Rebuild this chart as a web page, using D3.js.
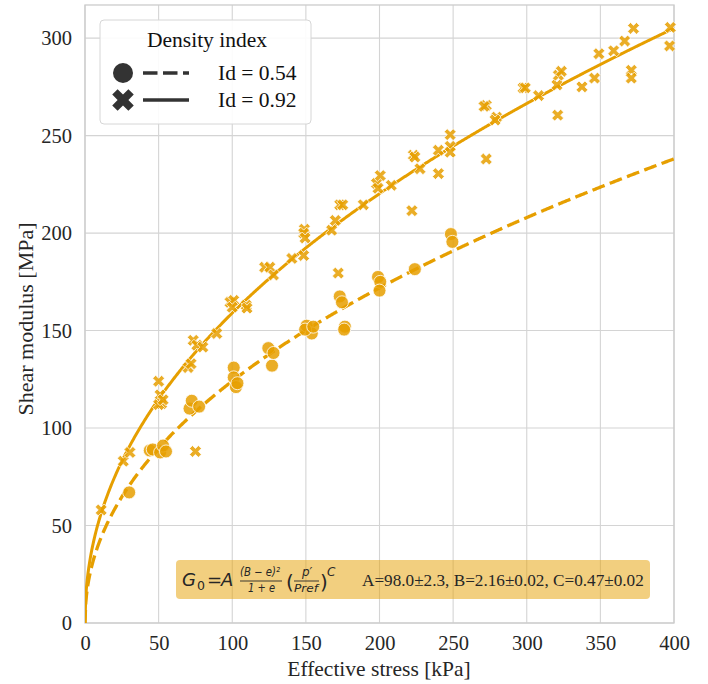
<!DOCTYPE html>
<html><head><meta charset="utf-8">
<script src="https://cdn.jsdelivr.net/npm/d3@7"></script>
<style>body{margin:0;background:#fff}svg{display:block}</style>
</head><body><div id="chart"></div>
<script>
// ---- data ----
const xTicks = [0, 50, 100, 150, 200, 250, 300, 350, 400];
const yTicks = [0, 50, 100, 150, 200, 250, 300];
const seriesLabels = ["Id = 0.54", "Id = 0.92"];
// Id = 0.54 (circles): [effective stress kPa, shear modulus MPa]
const looseStress = [30, 44, 46, 51, 53, 55, 71, 72.5, 77.5, 101, 101, 102.5, 103.5, 124.5, 127, 128, 150.5, 154, 149.5, 155, 173, 174.5, 176.5, 176, 199, 200.5, 200, 224, 248.5, 249.5];
const looseModulus = [67, 88.5, 89, 87.5, 91, 88, 110, 114, 111, 131, 126, 121, 123, 141, 132, 138.5, 152.5, 148.5, 150.5, 152, 167.5, 164.5, 152, 150.5, 177.5, 175, 170.5, 181.5, 199.5, 195.5];
// Id = 0.92 (crosses)
const denseStress = [11, 26, 30.5, 50, 51, 52, 50, 53, 73.5, 76, 80, 70, 72, 75, 89.5, 98.5, 101, 109.5, 100, 110, 122, 125.5, 128, 140.5, 148.5, 149, 148.5, 149.5, 167.5, 170, 173, 175, 172, 189, 198, 200.5, 199, 208, 222, 223, 224, 227.5, 240, 240, 248, 248, 248, 272.5, 272.5, 271, 279.5, 278.5, 297.5, 299, 308, 320.5, 321.5, 323.5, 321, 337.5, 346, 349, 359, 366.5, 372.5, 371, 371, 397.5, 397];
const denseModulus = [58, 83, 87.5, 124, 117, 112.5, 112, 114.5, 145, 142.5, 141.5, 131, 133, 88, 148.5, 164.5, 165.5, 163, 162, 161.5, 182.5, 182.5, 178.5, 187, 188.5, 202, 200, 197.5, 201.5, 206.5, 214.5, 214.5, 179.5, 214.5, 225.5, 229.5, 223, 224.5, 211.5, 240, 239, 233, 242.5, 230.5, 250.5, 244.5, 241.5, 238, 265.5, 265, 259.5, 258, 274.5, 274.5, 270.5, 276, 281, 283, 260.5, 275, 279.5, 292, 293.5, 298.5, 305, 283.5, 279.5, 305.5, 296];
// fitted model parameters shown in the annotation
const fitParams = [98.0, 2.16, 0.47];   // A, B, C
const voidRatios = [0.695, 0.566];      // e for Id = 0.54, Id = 0.92
const refPressure = [100];
const curveStress = d3.range(0, 400.5, 0.5);

// ---- layout ----
const W = 708, H = 684;
const m = {left: 85, right: 34, top: 5, bottom: 61};
const color = "#E69F00";
const serif = "'Liberation Serif','Times New Roman',serif";
const svg = d3.select("#chart").append("svg").attr("width", W).attr("height", H)
  .style("font-family", serif);

const x = d3.scaleLinear().domain([0, 400]).range([m.left, W - m.right]);
const y = d3.scaleLinear().domain([0, 317]).range([H - m.bottom, m.top]);

// grid
const g = svg.append("g");
g.selectAll(".vg").data(xTicks).join("line")
  .attr("x1", d => x(d)).attr("x2", d => x(d)).attr("y1", y(0)).attr("y2", y(317))
  .attr("stroke", "#d4d4d4").attr("stroke-width", 1.1);
g.selectAll(".hg").data(yTicks).join("line")
  .attr("y1", d => y(d)).attr("y2", d => y(d)).attr("x1", x(0)).attr("x2", x(400))
  .attr("stroke", "#d4d4d4").attr("stroke-width", 1.1);
svg.append("rect").attr("x", x(0)).attr("y", y(317)).attr("width", x(400) - x(0)).attr("height", y(0) - y(317))
  .attr("fill", "none").attr("stroke", "#cccccc").attr("stroke-width", 1.3);

// axes
const xAxis = svg.append("g").attr("transform", `translate(0,${y(0)})`)
  .call(d3.axisBottom(x).tickValues(xTicks).tickSize(0).tickPadding(12.5));
const yAxis = svg.append("g").attr("transform", `translate(${x(0)},0)`)
  .call(d3.axisLeft(y).tickValues(yTicks).tickSize(0).tickPadding(13));
[xAxis, yAxis].forEach(a => {
  a.select(".domain").remove();
  a.selectAll("text").attr("font-size", 20.5).attr("fill", "#262626").attr("font-family", serif);
});
svg.append("text").attr("x", 379).attr("y", 676).attr("text-anchor", "middle")
  .attr("font-size", 21.5).attr("fill", "#262626").text("Effective stress [kPa]");
svg.append("text").attr("transform", `translate(33,319) rotate(-90)`)
  .attr("text-anchor", "middle").attr("font-size", 22).attr("fill", "#262626").text("Shear modulus [MPa]");

// fitted curves
const [A, B, C] = fitParams;
const model = (p, e) => A * Math.pow(B - e, 2) / (1 + e) * Math.pow(p / refPressure[0], C);
const line = d3.line().x(d => x(d[0])).y(d => y(d[1]));
svg.append("clipPath").attr("id", "clip").append("rect")
  .attr("x", x(0)).attr("y", y(317)).attr("width", x(400) - x(0)).attr("height", y(0) - y(317));
svg.append("path").datum(curveStress.map(p => [p, model(p, voidRatios[0])]))
  .attr("d", line).attr("fill", "none").attr("stroke", color).attr("stroke-width", 3.3)
  .attr("stroke-dasharray", "13,5.5").attr("clip-path", "url(#clip)");
svg.append("path").datum(curveStress.map(p => [p, model(p, voidRatios[1])]))
  .attr("d", line).attr("fill", "none").attr("stroke", color).attr("stroke-width", 3)
  .attr("clip-path", "url(#clip)");

// markers
const xSym = d3.symbol().type(d3.symbolCross);
svg.append("g").selectAll("path").data(denseStress.map((s, i) => [s, denseModulus[i]])).join("path")
  .attr("d", xSym.size(88)())
  .attr("transform", d => `translate(${x(d[0])},${y(d[1])}) rotate(45)`)
  .attr("fill", color).attr("fill-opacity", 0.85).attr("stroke", "#fff").attr("stroke-width", 0.7);
svg.append("g").selectAll("circle").data(looseStress.map((s, i) => [s, looseModulus[i]])).join("circle")
  .attr("cx", d => x(d[0])).attr("cy", d => y(d[1])).attr("r", 6.5)
  .attr("fill", color).attr("fill-opacity", 0.85).attr("stroke", "#fff").attr("stroke-width", 0.8);

// legend
const lg = svg.append("g");
lg.append("rect").attr("x", 100).attr("y", 20).attr("width", 211).attr("height", 104).attr("rx", 4)
  .attr("fill", "#fff").attr("fill-opacity", 0.9).attr("stroke", "#d6d6d6").attr("stroke-width", 1);
lg.append("text").attr("x", 207).attr("y", 47).attr("text-anchor", "middle").attr("font-size", 21.5)
  .attr("fill", "#111").text("Density index");
const rowY = [73, 100];
lg.append("circle").attr("cx", 123).attr("cy", rowY[0]).attr("r", 10).attr("fill", "#333");
lg.append("line").attr("x1", 143).attr("x2", 189).attr("y1", rowY[0]).attr("y2", rowY[0])
  .attr("stroke", "#333").attr("stroke-width", 3.3).attr("stroke-dasharray", "14.5,5.5");
lg.append("path").attr("d", d3.symbol().type(d3.symbolCross).size(290)())
  .attr("transform", `translate(123,${rowY[1]}) rotate(45)`).attr("fill", "#333");
lg.append("line").attr("x1", 143).attr("x2", 189).attr("y1", rowY[1]).attr("y2", rowY[1])
  .attr("stroke", "#333").attr("stroke-width", 3.3);
seriesLabels.forEach((t, i) => lg.append("text").attr("x", 218).attr("y", rowY[i] + 7)
  .attr("font-size", 21.5).attr("fill", "#111").text(t));

// annotation
const an = svg.append("g");
an.append("rect").attr("x", 176).attr("y", 560).attr("width", 474).attr("height", 39).attr("rx", 4)
  .attr("fill", "#E69F00").attr("fill-opacity", 0.5);
const mf = "'DejaVu Sans',sans-serif";
const it = (xx, yy, s, t, style) => an.append("text").attr("x", xx).attr("y", yy).attr("font-size", s)
  .attr("font-family", mf).attr("font-style", style || "italic").attr("fill", "#262626").text(t);
it(182, 586, 18, "G");
it(197, 590, 12.5, "0", "normal");
it(207, 586, 18, "=", "normal");
it(221, 586, 18, "A");
it(240, 576, 12, "(B − e)²").attr("textLength", 40).attr("lengthAdjust", "spacingAndGlyphs");
an.append("line").attr("x1", 240).attr("x2", 282).attr("y1", 581).attr("y2", 581).attr("stroke", "#262626").attr("stroke-width", 0.9);
it(248, 592, 12, "1 + e").attr("textLength", 27).attr("lengthAdjust", "spacingAndGlyphs");
it(286, 589, 20, "(", "normal");
it(302, 576, 12, "p′");
an.append("line").attr("x1", 294).attr("x2", 319).attr("y1", 581).attr("y2", 581).attr("stroke", "#262626").attr("stroke-width", 0.9);
it(294, 592, 11, "Pref").attr("textLength", 24).attr("lengthAdjust", "spacingAndGlyphs");
it(320, 589, 20, ")", "normal");
it(327, 576, 12, "C");
an.append("text").attr("x", 362).attr("y", 586).attr("font-size", 17.2).attr("fill", "#262626")
  .text("A=98.0±2.3, B=2.16±0.02, C=0.47±0.02");
</script></body></html>
